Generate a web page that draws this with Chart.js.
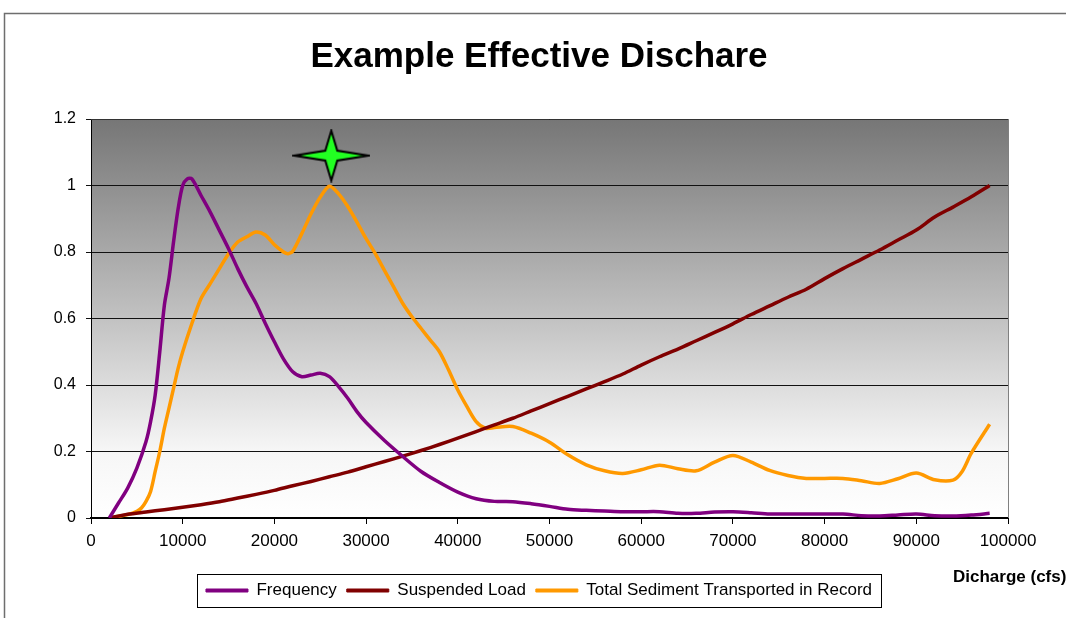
<!DOCTYPE html>
<html><head><meta charset="utf-8">
<script src="https://cdn.jsdelivr.net/npm/chart.js@4.4.0/dist/chart.umd.min.js"></script>
<style>html,body{margin:0;padding:0;background:#fff;}</style>
</head><body>
<canvas id="c" width="1066" height="618"></canvas>
<script>
const titleText = 'Example Effective Dischare';
const xAxisTitle = 'Dicharge (cfs)';
const seriesNames = ['Frequency', 'Suspended Load', 'Total Sediment Transported in Record'];
const seriesColors = ['#800080', '#800000', '#ff9900'];

const freqQ = [2000,3000,4000,5000,6000,6500,7000,7500,8000,8500,9000,9500,10000,10500,11000,12000,13000,14000,15000,16000,17000,18000,19000,20000,21000,22000,23000,24000,25000,26000,27000,28000,29000,30000,32000,34000,36000,38000,40000,42000,44000,46000,48000,50000,52000,54000,56000,58000,60000,62000,64000,66000,68000,70000,72000,74000,78000,82000,84000,86000,88000,90000,92000,94000,96000,98000];
const freqVal = [0,0.045,0.09,0.15,0.23,0.29,0.37,0.50,0.64,0.72,0.83,0.93,1.0,1.02,1.02,0.97,0.92,0.865,0.81,0.75,0.695,0.645,0.586,0.53,0.478,0.44,0.425,0.43,0.435,0.425,0.395,0.36,0.32,0.287,0.233,0.185,0.14,0.107,0.078,0.058,0.05,0.049,0.043,0.035,0.026,0.023,0.021,0.019,0.019,0.019,0.014,0.014,0.018,0.019,0.016,0.012,0.012,0.012,0.007,0.006,0.009,0.012,0.007,0.006,0.009,0.014];

const loadQ = [2000,4000,6000,8000,10000,12000,14000,16000,18000,20000,22000,24000,26000,28000,30000,32000,34000,36000,38000,40000,42000,44000,46000,48000,50000,52000,54000,56000,58000,60000,62000,64000,66000,68000,70000,72000,74000,76000,78000,80000,82000,84000,86000,88000,90000,92000,94000,96000,98000];
const loadVal = [0,0.011,0.018,0.025,0.032,0.04,0.049,0.06,0.071,0.083,0.097,0.11,0.124,0.138,0.154,0.17,0.186,0.203,0.221,0.24,0.26,0.28,0.30,0.322,0.344,0.366,0.388,0.41,0.433,0.46,0.485,0.508,0.533,0.558,0.584,0.612,0.638,0.664,0.688,0.72,0.75,0.778,0.806,0.836,0.866,0.905,0.935,0.966,1.0];

const sedQ = [2000,3000,4000,5000,5500,6000,6500,7000,7500,8000,8500,9000,9500,10000,11000,12000,13000,14000,15000,16000,17000,18000,19000,20000,21000,21500,22000,23000,24000,25000,26000,27000,28000,29000,30000,31000,32000,33000,34000,35000,36000,37000,38000,39000,40000,41000,42000,43000,44000,46000,48000,50000,52000,54000,56000,58000,60000,62000,64000,66000,68000,70000,72000,74000,76000,78000,80000,82000,84000,86000,88000,90000,92000,94000,95000,96000,98000];
const sedVal = [0,0.005,0.01,0.02,0.03,0.05,0.08,0.14,0.2,0.27,0.33,0.39,0.45,0.5,0.585,0.66,0.705,0.75,0.795,0.83,0.846,0.86,0.851,0.822,0.8,0.795,0.802,0.856,0.915,0.965,0.998,0.975,0.937,0.89,0.84,0.795,0.745,0.695,0.645,0.605,0.57,0.535,0.5,0.445,0.385,0.335,0.29,0.27,0.272,0.275,0.255,0.228,0.19,0.16,0.142,0.134,0.145,0.159,0.148,0.142,0.168,0.188,0.168,0.143,0.128,0.119,0.119,0.119,0.112,0.104,0.118,0.135,0.115,0.114,0.14,0.195,0.282];

const peakQ = [26200];
const peakVal = [1.09];

const xMin = 0, xMax = 100000, xStep = 10000;
const yMin = 0, yMax = 1.2, yStep = 0.2;

function pts(xs, ys) { return xs.map((x, i) => ({x: x, y: ys[i]})); }

// 4-point star marker
const star = document.createElement('canvas');
star.width = 78; star.height = 54;
(function () {
  const g = star.getContext('2d');
  const cx = 39, cy = 27;
  g.beginPath();
  g.moveTo(cx, 2);
  g.lineTo(cx + 6, cy - 5);
  g.lineTo(76, cy);
  g.lineTo(cx + 6, cy + 5);
  g.lineTo(cx, 52);
  g.lineTo(cx - 6, cy + 5);
  g.lineTo(2, cy);
  g.lineTo(cx - 6, cy - 5);
  g.closePath();
  g.fillStyle = '#22ff22';
  g.fill();
  g.lineWidth = 2;
  g.lineJoin = 'miter';
  g.strokeStyle = '#000';
  g.stroke();
})();

const decor = {
  id: 'decor',
  beforeDraw(chart) {
    const ctx = chart.ctx, a = chart.chartArea;
    ctx.save();
    ctx.fillStyle = '#fff';
    ctx.fillRect(0, 0, chart.width, chart.height);
    ctx.strokeStyle = '#6e6e6e';
    ctx.lineWidth = 1.5;
    ctx.beginPath();
    ctx.moveTo(4.5, chart.height);
    ctx.lineTo(4.5, 13.5);
    ctx.lineTo(chart.width, 13.5);
    ctx.stroke();
    const gr = ctx.createLinearGradient(0, a.top, 0, a.bottom);
    gr.addColorStop(0, '#767676');
    gr.addColorStop(0.5, '#c2c2c2');
    gr.addColorStop(0.83, '#f6f6f6');
    gr.addColorStop(1, '#ffffff');
    ctx.fillStyle = gr;
    ctx.fillRect(a.left, a.top, a.right - a.left, a.bottom - a.top);
    ctx.restore();
  },
  afterDraw(chart) {
    const ctx = chart.ctx, a = chart.chartArea;
    ctx.save();
    ctx.strokeStyle = '#808080';
    ctx.lineWidth = 1;
    ctx.beginPath();
    ctx.moveTo(a.right + 0.5, a.top);
    ctx.lineTo(a.right + 0.5, a.bottom);
    ctx.stroke();
    ctx.strokeStyle = '#333';
    ctx.beginPath();
    ctx.moveTo(a.left, a.top + 0.5);
    ctx.lineTo(a.right, a.top + 0.5);
    ctx.stroke();
    ctx.fillStyle = '#000';
    ctx.font = 'bold 17px "Liberation Sans", Arial, sans-serif';
    ctx.textBaseline = 'middle';
    ctx.textAlign = 'left';
    ctx.fillText(xAxisTitle, 953, 577);
    const hb = chart.legend && chart.legend.legendHitBoxes;
    if (hb && hb.length) {
      let l = Infinity, r = -Infinity, t = Infinity, b = -Infinity;
      hb.forEach(h => { l = Math.min(l, h.left); r = Math.max(r, h.left + h.width); t = Math.min(t, h.top); b = Math.max(b, h.top + h.height); });
      ctx.strokeStyle = '#000';
      ctx.lineWidth = 1;
      ctx.strokeRect(Math.round(l - 9) + 0.5, Math.round(t - 8) + 0.5, Math.round(r - l + 18), Math.round(b - t + 16));
    }
    ctx.restore();
  }
};

const lineDs = (i, xs, ys) => ({
  label: seriesNames[i],
  data: pts(xs, ys),
  borderColor: seriesColors[i],
  backgroundColor: seriesColors[i],
  borderWidth: 3.5,
  pointRadius: 0,
  tension: 0.3,
  showLine: true,
  order: 1
});

new Chart(document.getElementById('c'), {
  type: 'scatter',
  data: {
    datasets: [
      lineDs(0, freqQ, freqVal),
      lineDs(1, loadQ, loadVal),
      lineDs(2, sedQ, sedVal),
      {
        label: 'peak',
        data: pts(peakQ, peakVal),
        pointStyle: star,
        pointRadius: 10,
        showLine: false,
        order: 0
      }
    ]
  },
  options: {
    responsive: false,
    animation: false,
    layout: { padding: { left: 12, right: 0, top: 0, bottom: 9 } },
    plugins: {
      title: {
        display: true,
        text: titleText,
        color: '#000',
        font: { family: '"Liberation Sans", Arial, sans-serif', size: 35, weight: 'bold', lineHeight: 1.2 },
        padding: { top: 36, bottom: 41 }
      },
      legend: {
        position: 'bottom',
        labels: {
          color: '#000',
          font: { family: '"Liberation Sans", Arial, sans-serif', size: 17 },
          boxWidth: 42,
          boxHeight: 3,
          padding: 10,
          filter: item => item.text !== 'peak',
          generateLabels(chart) {
            const items = Chart.defaults.plugins.legend.labels.generateLabels(chart);
            items.forEach(it => { it.lineWidth = 1; });
            return items;
          }
        }
      },
      tooltip: { enabled: false }
    },
    scales: {
      x: {
        type: 'linear',
        min: xMin, max: xMax,
        ticks: {
          stepSize: xStep,
          color: '#000',
          padding: 7,
          maxRotation: 0,
          font: { family: '"Liberation Sans", Arial, sans-serif', size: 17 },
          callback: v => String(v)
        },
        grid: { drawOnChartArea: false, color: '#000', tickLength: 6, lineWidth: 1 },
        border: { color: '#000', width: 2 },
        afterFit(s) { s.height = 54; s.paddingRight = 58; }
      },
      y: {
        min: yMin, max: yMax,
        ticks: {
          stepSize: yStep,
          color: '#000',
          padding: 10,
          font: { family: '"Liberation Sans", Arial, sans-serif', size: 16 },
          callback: v => String(Number(v.toFixed(1)))
        },
        grid: { color: '#111', lineWidth: 1, tickLength: 5 },
        border: { color: '#000', width: 1 },
        afterFit(s) { s.width = 79; }
      }
    }
  },
  plugins: [decor]
});
</script>
</body></html>
